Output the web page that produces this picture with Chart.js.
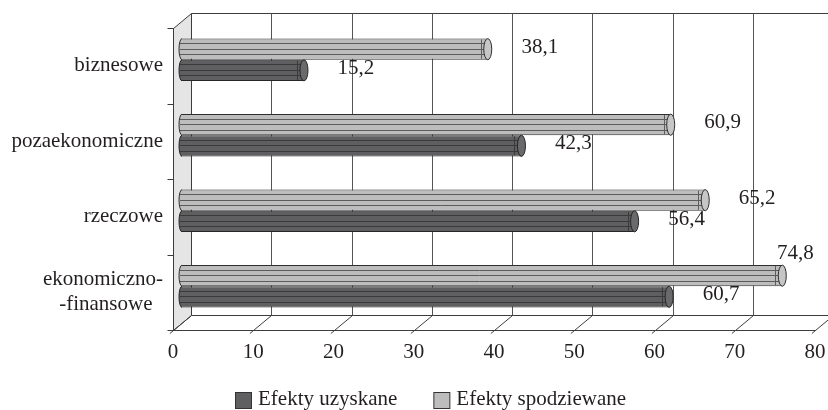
<!DOCTYPE html>
<html>
<head>
<meta charset="utf-8">
<script src="https://cdn.jsdelivr.net/npm/chart.js@4/dist/chart.umd.min.js"></script>
<style>
  html, body { margin: 0; padding: 0; background: #fff; }
</style>
</head>
<body>
<canvas id="chart" width="828" height="410"></canvas>
<script>
const categories = ['biznesowe', 'pozaekonomiczne', 'rzeczowe', ['ekonomiczno-', '-finansowe  ']];
const uzyskane = [15.2, 42.3, 56.4, 60.7];
const spodziewane = [38.1, 60.9, 65.2, 74.8];
const xTicks = [0, 10, 20, 30, 40, 50, 60, 70, 80];
const seriesNames = ['Efekty uzyskane', 'Efekty spodziewane'];

const FONT = '"Liberation Serif", "Times New Roman", serif';
const ink = '#231f20';
const depth = {dx: 18, dy: -15};     // back wall offset
const shift = {dx: 9, dy: -6};       // bars sit half way in depth

function line(ctx, x1, y1, x2, y2) {
  ctx.beginPath();
  ctx.moveTo(x1, y1);
  ctx.lineTo(x2, y2);
  ctx.stroke();
}

// walls, floor, grid drawn in perspective around the chart area
const frame3d = {
  id: 'frame3d',
  beforeDatasetsDraw(chart) {
    const {ctx, chartArea: a, scales: {x}} = chart;
    const L = Math.round(a.left) + 0.5, T = Math.round(a.top) + 0.5, B = Math.round(a.bottom) + 0.5;
    const xEnd = Math.round(x.getPixelForValue(xTicks[xTicks.length - 1])) + 0.5;
    ctx.save();
    ctx.lineWidth = 1;
    ctx.strokeStyle = '#3c3c3c';

    // left side wall
    ctx.fillStyle = '#e5e5e6';
    ctx.beginPath();
    ctx.moveTo(L, T);
    ctx.lineTo(L + depth.dx, T + depth.dy);
    ctx.lineTo(L + depth.dx, B + depth.dy);
    ctx.lineTo(L, B);
    ctx.closePath();
    ctx.fill();
    ctx.stroke();

    // back wall top edge + grid lines
    line(ctx, L + depth.dx, T + depth.dy, xEnd + depth.dx, T + depth.dy);
    ctx.strokeStyle = '#555';
    xTicks.forEach(v => {
      if (v === 0) return;
      const X = Math.round(x.getPixelForValue(v)) + 0.5 + depth.dx;
      line(ctx, X, T + depth.dy, X, B + depth.dy);
    });

    // floor
    ctx.strokeStyle = '#3c3c3c';
    line(ctx, L + depth.dx, B + depth.dy, xEnd + depth.dx, B + depth.dy);
    line(ctx, L, B, xEnd, B);
    xTicks.forEach(v => {
      const X = Math.round(x.getPixelForValue(v)) + 0.5;
      line(ctx, X - 3.6, B + 3, X + depth.dx, B + depth.dy);
    });

    // front left axis with category ticks
    line(ctx, L, T, L, B);
    const n = categories.length;
    for (let i = 0; i <= n; i++) {
      const yy = Math.round(a.top + i * (a.bottom - a.top) / n) + 0.5;
      line(ctx, L - 6, yy, L, yy);
    }
    ctx.restore();

    ctx.save();
    ctx.translate(shift.dx, shift.dy);
  },
  afterDatasetsDraw(chart) {
    const {ctx} = chart;
    // cylinder shading on top of the flat bars
    chart.data.datasets.forEach((ds, di) => {
      const meta = chart.getDatasetMeta(di);
      meta.data.forEach(el => {
        const {x: end, y, base, height: h} = el.getProps(['x', 'y', 'base', 'height'], true);
        const top = y - h / 2;
        ctx.save();
        ctx.lineWidth = 1;
        // left rounded end
        ctx.fillStyle = ds.backgroundColor;
        ctx.strokeStyle = ds.borderColor;
        ctx.beginPath();
        ctx.ellipse(base, y, 3, h / 2, 0, Math.PI / 2, 3 * Math.PI / 2);
        ctx.fill();
        ctx.stroke();
        // stripes
        ctx.strokeStyle = ds.stripeColor;
        [0.21, 0.48, 0.74].forEach(f => {
          const yy = Math.round(top + f * h) + 0.5;
          line(ctx, base - 2, yy, end - 3, yy);
        });
        line(ctx, Math.round(end - 7) + 0.5, top + 1, Math.round(end - 7) + 0.5, top + h - 1);
        // right end cap
        ctx.fillStyle = ds.capColor;
        ctx.strokeStyle = ds.borderColor;
        ctx.beginPath();
        ctx.ellipse(end, y, 4, h / 2, 0, 0, 2 * Math.PI);
        ctx.fill();
        ctx.stroke();
        ctx.restore();
      });
    });
    ctx.restore();

    // value labels
    ctx.save();
    ctx.font = '21px ' + FONT;
    ctx.fillStyle = ink;
    ctx.textAlign = 'center';
    ctx.textBaseline = 'middle';
    chart.data.datasets.forEach((ds, di) => {
      const meta = chart.getDatasetMeta(di);
      meta.data.forEach((el, i) => {
        const {x: end, y, height: h} = el.getProps(['x', 'y', 'height'], true);
        const txt = ds.data[i].toFixed(1).replace('.', ',');
        let cx = end + shift.dx + 52;
        let cy = y + shift.dy - 2;
        if (cx + 20 > chart.width - 2) {
          cx = end + shift.dx + 13;
          cy = y - h / 2 + shift.dy - 12;
        }
        ctx.fillText(txt, cx, cy);
      });
    });
    ctx.restore();
  },
  afterDraw(chart) {
    // legend, series order as in the original
    const {ctx} = chart;
    const items = chart.data.datasets.slice().reverse();
    ctx.save();
    ctx.font = '21px ' + FONT;
    const box = 16, gapText = 7, gapItem = 36;
    const widths = items.map(d => box + gapText + ctx.measureText(d.label).width);
    const total = widths.reduce((s, w) => s + w, 0) + gapItem * (items.length - 1);
    let px = Math.round(chart.width / 2 + 17 - total / 2);
    const boxTop = 392;
    items.forEach((d, i) => {
      ctx.fillStyle = d.backgroundColor;
      ctx.strokeStyle = '#333';
      ctx.lineWidth = 1;
      ctx.fillRect(px + 0.5, boxTop + 0.5, box, box);
      ctx.strokeRect(px + 0.5, boxTop + 0.5, box, box);
      ctx.fillStyle = ink;
      ctx.textBaseline = 'alphabetic';
      ctx.fillText(d.label, px + box + gapText, 405);
      px += widths[i] + gapItem;
    });
    ctx.restore();
  }
};

new Chart(document.getElementById('chart'), {
  type: 'bar',
  data: {
    labels: categories,
    datasets: [
      {
        label: seriesNames[1],
        data: spodziewane,
        backgroundColor: '#bdbdbe',
        capColor: '#c6c6c7',
        stripeColor: '#5c5c5c',
        borderColor: '#2e2e2e'
      },
      {
        label: seriesNames[0],
        data: uzyskane,
        backgroundColor: '#5f5f61',
        capColor: '#6a6a6c',
        stripeColor: '#3a3a3a',
        borderColor: '#262626'
      }
    ]
  },
  options: {
    indexAxis: 'y',
    responsive: false,
    animation: false,
    devicePixelRatio: 1,
    layout: {padding: {top: 28, right: 13, bottom: 40, left: 0}},
    datasets: {
      bar: {
        borderWidth: 1,
        borderSkipped: 'start',
        categoryPercentage: 0.56,
        barPercentage: 1,
        clip: false
      }
    },
    scales: {
      x: {
        min: 0,
        max: 80,
        grid: {display: false, drawTicks: false},
        border: {display: false},
        ticks: {stepSize: 10, padding: 10, color: ink, font: {family: FONT, size: 21}},
        afterFit(scale) { scale.height = 40; scale.paddingLeft = 0; scale.paddingRight = 0; }
      },
      y: {
        grid: {display: false, drawTicks: false},
        border: {display: false},
        ticks: {padding: 10, color: ink, font: {family: FONT, size: 21}},
        afterFit(scale) { scale.width = 173; scale.paddingTop = 0; scale.paddingBottom = 0; }
      }
    },
    plugins: {
      legend: {display: false},
      tooltip: {enabled: false}
    }
  },
  plugins: [frame3d]
});
</script>
</body>
</html>
